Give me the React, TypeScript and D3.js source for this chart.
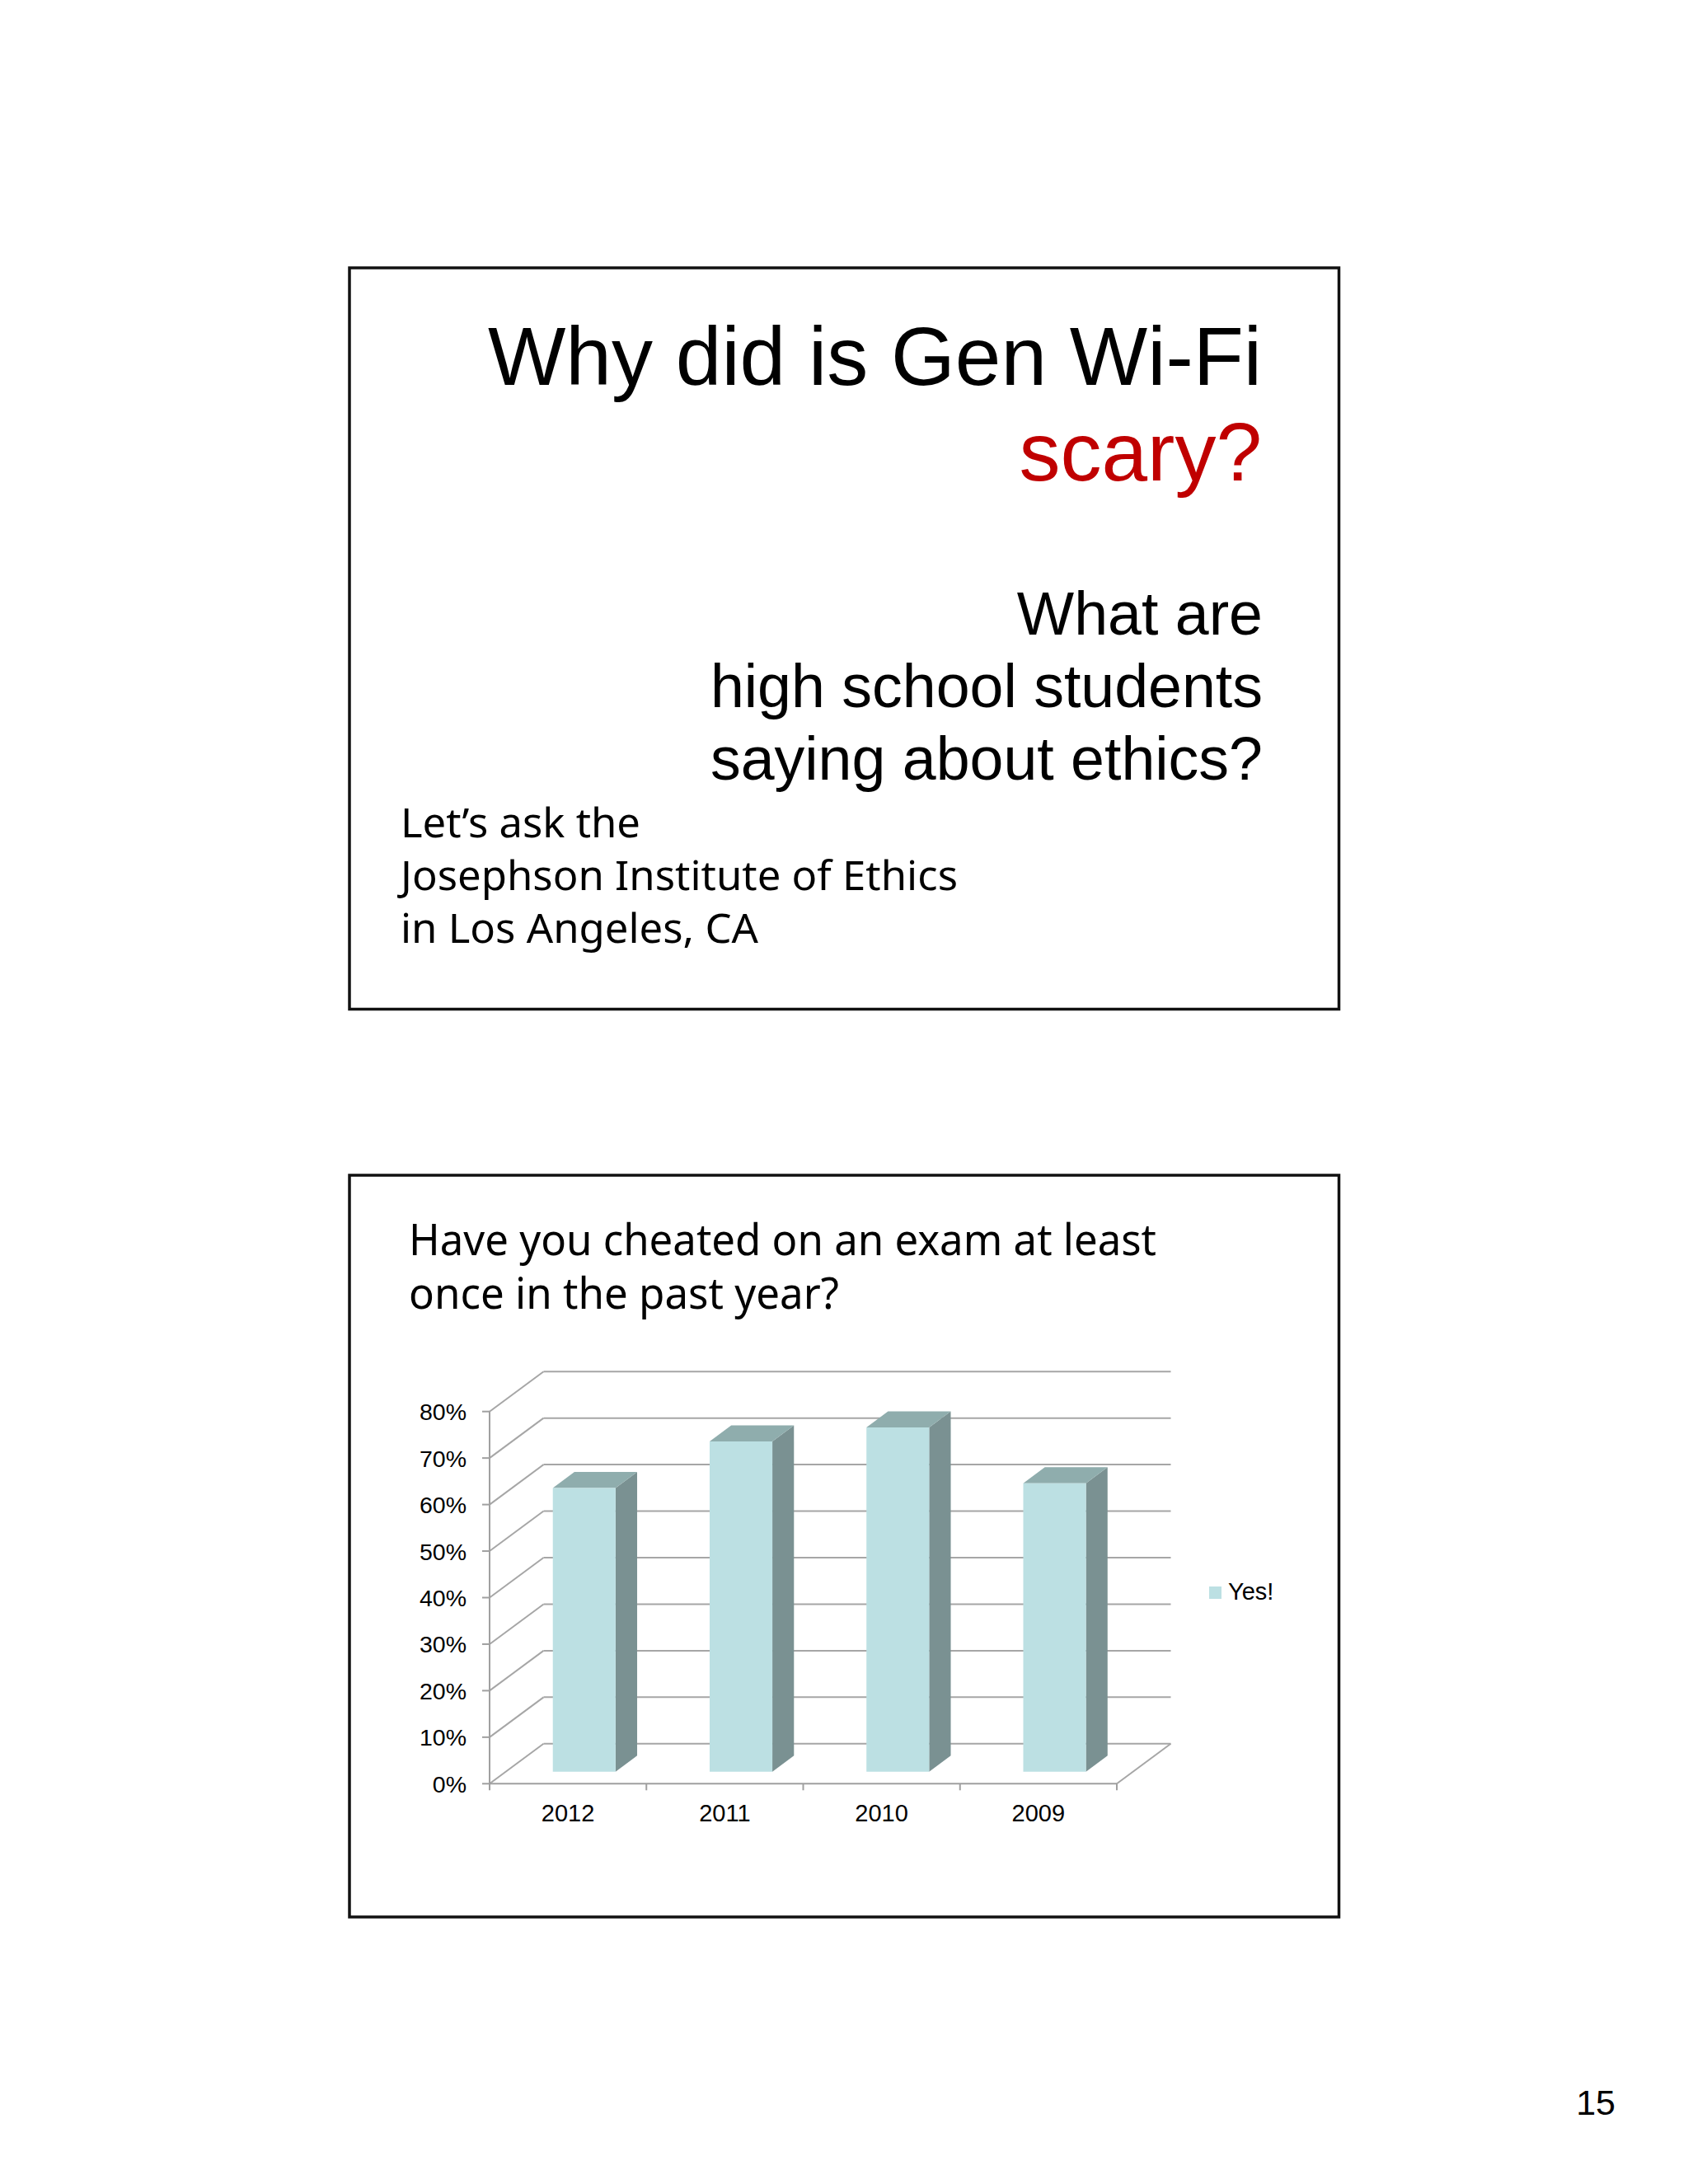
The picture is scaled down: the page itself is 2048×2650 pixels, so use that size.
import React from "react";
import * as d3 from "d3";

const categories = ["2012", "2011", "2010", "2009"];
const yesValues = [0.61, 0.71, 0.74, 0.62];
const yTicks = [0, 0.1, 0.2, 0.3, 0.4, 0.5, 0.6, 0.7, 0.8];
const seriesName = "Yes!";

const titleLines = ["Have you cheated on an exam at least", "once in the past year?"];
const introLines = ["Let\u2019s ask the", "Josephson Institute of Ethics", "in Los Angeles, CA"];
const questionLines = ["What are", "high school students", "saying about ethics?"];

const ARIAL = "'Liberation Sans', Arial, sans-serif";
const HUMAN = "'Noto Sans', 'Open Sans', sans-serif";

export default function App() {
  const x = d3.scaleBand<string>().domain(categories).range([594, 1355]).padding(0);
  const y = d3.scaleLinear().domain([0, 0.8]).range([2164.3, 1712.7]);
  const DX = 65.5;
  const DY = -48.5;
  const f = 0.3;
  const b = 0.7;
  const bw = x.bandwidth();
  const y0 = y(0);
  const xEnd = 1355;

  const pts = (arr: [number, number][]) => arr.map((p) => p.join(",")).join(" ");

  return (
    <svg
      width={2048}
      height={2650}
      style={{ position: "absolute", left: 0, top: 0, background: "#fff" }}
    >
      <rect x={0} y={0} width={2048} height={2650} fill="#fff" />
      {/* Slide 1 */}
      <rect x={424} y={325} width={1200.5} height={899.5} fill="none" stroke="#111" strokeWidth={3.5} />
      <text x={1531} y={467} textAnchor="end" fontFamily={ARIAL} fontSize={100} fill="#000">
        Why did is Gen Wi-Fi
      </text>
      <text x={1531} y={583} textAnchor="end" fontFamily={ARIAL} fontSize={100} fill="#C00000">
        scary?
      </text>
      {questionLines.map((t, i) => (
        <text key={t} x={1532} y={770 + i * 88} textAnchor="end" fontFamily={ARIAL} fontSize={73.5} fill="#000">
          {t}
        </text>
      ))}
      {introLines.map((t, i) => {
        const widths = [291, 676, 434];
        return (
          <text
            key={t}
            x={486}
            y={1016 + i * 64}
            fontFamily={HUMAN}
            fontSize={49}
            fill="#000"
            textLength={widths[i]}
            lengthAdjust="spacingAndGlyphs"
          >
            {t}
          </text>
        );
      })}

      {/* Slide 2 */}
      <rect x={424} y={1426} width={1200.5} height={900} fill="none" stroke="#111" strokeWidth={3.5} />
      {titleLines.map((t, i) => {
        const widths = [907, 522];
        return (
          <text
            key={t}
            x={496}
            y={1522.7 + i * 65}
            fontFamily={HUMAN}
            fontSize={52}
            fill="#000"
            textLength={widths[i]}
            lengthAdjust="spacingAndGlyphs"
          >
            {t}
          </text>
        );
      })}

      {/* gridlines: left wall diagonals + back wall */}
      {yTicks.map((t) => (
        <g key={t}>
          <line x1={594} y1={y(t)} x2={594 + DX} y2={y(t) + DY} stroke="#A6A6A6" strokeWidth={2} />
          <line x1={594 + DX} y1={y(t) + DY} x2={xEnd + DX} y2={y(t) + DY} stroke="#A6A6A6" strokeWidth={2} />
        </g>
      ))}
      {/* floor */}
      <line x1={xEnd} y1={y0} x2={xEnd + DX} y2={y0 + DY} stroke="#A6A6A6" strokeWidth={2} />
      <line x1={594} y1={y0} x2={xEnd} y2={y0} stroke="#A0A0A0" strokeWidth={2} />
      {/* value axis */}
      <line x1={594} y1={y(0.8)} x2={594} y2={y0} stroke="#A0A0A0" strokeWidth={2} />
      {yTicks.map((t) => (
        <g key={"yt" + t}>
          <line x1={585} y1={y(t)} x2={594} y2={y(t)} stroke="#A0A0A0" strokeWidth={2} />
          <text x={566} y={y(t) + 10.5} textAnchor="end" fontFamily={ARIAL} fontSize={28.5} fill="#000">
            {d3.format(".0%")(t)}
          </text>
        </g>
      ))}
      {/* category ticks */}
      {[...categories.map((c) => x(c) as number), xEnd].map((v, i) => (
        <line key={"ct" + i} x1={v} y1={y0} x2={v} y2={y0 + 8} stroke="#A0A0A0" strokeWidth={2} />
      ))}
      {categories.map((c) => (
        <text
          key={"cl" + c}
          x={(x(c) as number) + bw / 2}
          y={2209.5}
          textAnchor="middle"
          fontFamily={ARIAL}
          fontSize={29}
          fill="#000"
        >
          {c}
        </text>
      ))}

      {/* bars */}
      {categories.map((c, i) => {
        const xl = (x(c) as number) + bw * 0.3;
        const xr = xl + bw * 0.4;
        const yt = y(yesValues[i]);
        const P = (px: number, py: number, d: number): [number, number] => [px + d * DX, py + d * DY];
        return (
          <g key={"bar" + c}>
            <polygon
              points={pts([P(xr, yt, f), P(xr, yt, b), P(xr, y0, b), P(xr, y0, f)])}
              fill="#7A9192"
            />
            <polygon
              points={pts([P(xl, yt, f), P(xr, yt, f), P(xr, yt, b), P(xl, yt, b)])}
              fill="#8FADAD"
            />
            <polygon
              points={pts([P(xl, yt, f), P(xr, yt, f), P(xr, y0, f), P(xl, y0, f)])}
              fill="#BCE0E3"
            />
          </g>
        );
      })}

      {/* legend */}
      <rect x={1467} y={1925} width={15} height={15} fill="#BCE0E3" />
      <text x={1490} y={1941} fontFamily={ARIAL} fontSize={29} fill="#000">
        {seriesName}
      </text>

      {/* page number */}
      <text x={1960} y={2566} textAnchor="end" fontFamily={ARIAL} fontSize={43} fill="#000">
        15
      </text>
    </svg>
  );
}
